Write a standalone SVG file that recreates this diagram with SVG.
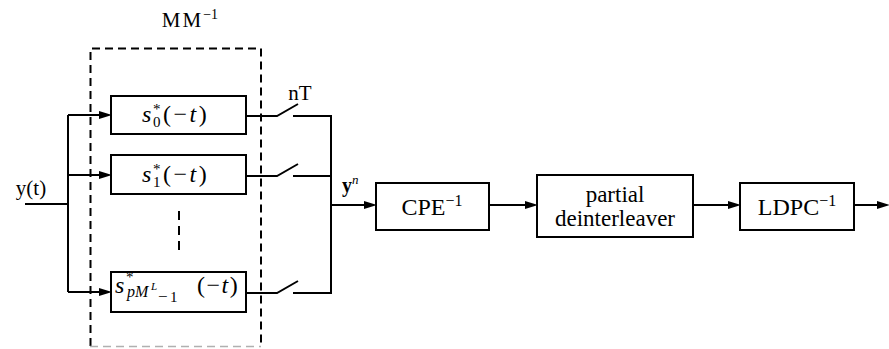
<svg xmlns="http://www.w3.org/2000/svg" width="889" height="349" viewBox="0 0 889 349">
<style>
.t{font-family:"Liberation Serif","DejaVu Serif",serif;fill:#000}
.box{fill:#fff;stroke:#000;stroke-width:2}
.ln{fill:none;stroke:#000;stroke-width:2}
.dash{fill:none;stroke:#000;stroke-width:2;stroke-dasharray:8 5}
.it{font-style:italic}
</style>
<defs>
<marker id="ah" markerUnits="userSpaceOnUse" markerWidth="13" markerHeight="10" refX="6" refY="5" orient="auto">
<path d="M0,1 L13,5 L0,9 Z" fill="#000"/>
</marker>
</defs>

<g id="mm-frame">
<path class="dash" d="M90.5,346 V48.5 H261 V346"/>
<line x1="90" y1="346.5" x2="261" y2="346.5" stroke="#b0b0b0" stroke-width="1.5" stroke-dasharray="8 5"/>
<text class="t" x="190" y="27" font-size="21" text-anchor="middle"><tspan letter-spacing="2">MM</tspan><tspan font-size="14" dy="-8">−1</tspan></text>
</g>

<g id="connectors">
<path class="ln" d="M25,204 H68 M68,115 V292"/>
<path class="ln" d="M68,115 H105" marker-end="url(#ah)"/>
<path class="ln" d="M68,175 H105" marker-end="url(#ah)"/>
<path class="ln" d="M68,292 H105" marker-end="url(#ah)"/>
<path class="ln" d="M246,116 H277 L298,104 M293,116 H331"/>
<path class="ln" d="M246,176 H277 L298,164 M293,176 H331"/>
<path class="ln" d="M246,293 H277 L298,281 M293,293 H331"/>
<path class="ln" d="M331,115 V294"/>
<path class="ln" d="M331,205 H370" marker-end="url(#ah)"/>
<path class="ln" d="M489,205 H531" marker-end="url(#ah)"/>
<path class="ln" d="M693,205 H734" marker-end="url(#ah)"/>
<path class="ln" d="M854,205 H883" marker-end="url(#ah)"/>
<line x1="179" y1="211" x2="179" y2="256" stroke="#000" stroke-width="2" stroke-dasharray="9 6"/>
</g>

<g id="input-label">
<text class="t" x="31" y="195" font-size="21" text-anchor="middle">y(t)</text>
</g>

<g id="switch-label">
<text class="t" x="300" y="100" font-size="21" text-anchor="middle">nT</text>
</g>

<g id="yn-label">
<text class="t" x="342" y="192" font-size="20" font-weight="bold">y<tspan font-size="13" font-weight="normal" font-style="italic" dy="-8">n</tspan></text>
</g>

<g id="filter0">
<rect class="box" x="111" y="96" width="135" height="38"/>
<text class="t" font-size="24"><tspan class="it" x="142" y="122">s</tspan><tspan x="153" y="114" font-size="15">*</tspan><tspan x="153" y="127" font-size="15">0</tspan><tspan x="163" y="122" letter-spacing="2.5">(−<tspan class="it">t</tspan>)</tspan></text>
</g>

<g id="filter1">
<rect class="box" x="111" y="155" width="135" height="39"/>
<text class="t" font-size="24"><tspan class="it" x="142" y="182">s</tspan><tspan x="153" y="174" font-size="15">*</tspan><tspan x="153" y="187" font-size="15">1</tspan><tspan x="163" y="182" letter-spacing="2.5">(−<tspan class="it">t</tspan>)</tspan></text>
</g>

<g id="filter2">
<rect class="box" x="111" y="272" width="135" height="40"/>
<text class="t" font-size="24"><tspan class="it" x="115" y="293">s</tspan><tspan x="126" y="282" font-size="15">*</tspan><tspan class="it" x="127" y="297" font-size="16">pM</tspan><tspan class="it" x="151" y="290" font-size="11">L</tspan><tspan x="158" y="302" font-size="17">−</tspan><tspan x="170" y="302" font-size="15">1</tspan><tspan x="197" y="293" letter-spacing="1.5">(−<tspan class="it">t</tspan>)</tspan></text>
</g>

<g id="cpe">
<rect class="box" x="376" y="183" width="113" height="47"/>
<text class="t" x="432" y="215" font-size="24" text-anchor="middle">CPE<tspan font-size="16" dy="-9">−1</tspan></text>
</g>

<g id="deinterleaver">
<rect class="box" x="537" y="175" width="156" height="62"/>
<text class="t" x="615" y="202" font-size="23" text-anchor="middle">partial</text>
<text class="t" x="615" y="226" font-size="23" text-anchor="middle">deinterleaver</text>
</g>

<g id="ldpc">
<rect class="box" x="740" y="183" width="114" height="47"/>
<text class="t" x="797" y="215" font-size="24" text-anchor="middle">LDPC<tspan font-size="16" dy="-9">−1</tspan></text>
</g>
</svg>
